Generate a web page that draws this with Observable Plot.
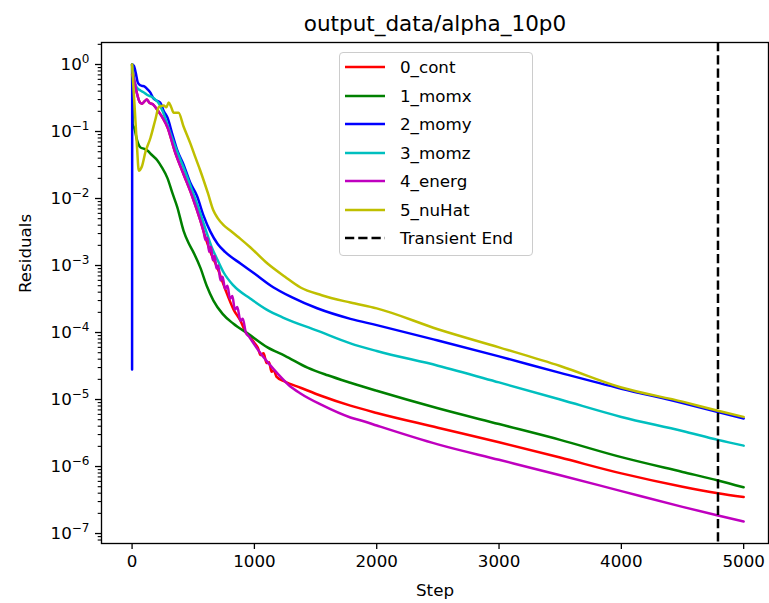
<!DOCTYPE html>
<html><head><meta charset="utf-8">
<script src="https://cdn.jsdelivr.net/npm/d3@7"></script>
<script src="https://cdn.jsdelivr.net/npm/@observablehq/plot@0.6"></script>
<style>
body{margin:0;background:#fff;}
#wrap{position:relative;width:769px;height:603px;font-family:"DejaVu Sans",sans-serif;}
#legend{position:absolute;left:339px;top:52px;width:194px;height:204px;border:1px solid #cccccc;border-radius:4px;background:rgba(255,255,255,0.8);box-sizing:border-box;}
.row{position:absolute;left:0;height:28px;display:flex;align-items:center;font-size:16.7px;color:#000;white-space:nowrap;}
.row svg{margin-left:5px;margin-right:15px;}
</style></head><body><div id="wrap"><div id="legend"></div></div>
<script>
const chartTitle = "output_data/alpha_10p0";
const xLabel = "Step";
const yLabel = "Residuals";
const seriesNames = ["0_cont","1_momx","2_momy","3_momz","4_energ","5_nuHat"];
const seriesColors = ["#ff0000","#008000","#0000ff","#00bfbf","#bf00bf","#bfbf00"];
const transientLabel = "Transient End";
const transientEnd = 4790;
const xTicks = [0,1000,2000,3000,4000,5000];
const yTicks = [1,1e-1,1e-2,1e-3,1e-4,1e-5,1e-6,1e-7];

const contSteps = [0,20,40,60,80,100,120,140,175,215,250,290,350,421,490,558,585,640,700,760,830,886,930,960,1000,1030,1050,1075,1100,1120,1140,1160,1180,1250,1377,1550,1785,2000,2500,3000,3500,4000,4500,4790,5000];
const contVals = [1.0,0.55,0.37,0.28,0.26,0.28,0.3,0.27,0.25,0.2,0.16,0.115,0.05,0.023,0.011,0.0047,0.0032,0.0016,0.0009,0.00045,0.00022,0.00015,0.0001,0.000088,0.00007,0.000058,0.000046,0.000049,0.000035,0.000036,0.000026,0.000027,0.000022,0.0000185,0.000015,0.0000113,0.0000081,0.0000063,0.0000038,0.0000023,0.00000136,0.00000079,0.0000005,0.0000004,0.00000035];

const momxSteps = [0,4,20,40,68,100,125,160,207,240,290,330,370,421,460,500,558,610,665,740,829,950,1107,1250,1434,1600,1785,2000,2500,3000,3500,4000,4500,4790,5000];
const momxVals = [1.0,0.13,0.11,0.075,0.058,0.055,0.052,0.045,0.037,0.03,0.02,0.012,0.0074,0.0033,0.0022,0.0016,0.00093,0.0005,0.0003,0.00019,0.000135,0.0000955,0.00006,0.000045,0.00003,0.000023,0.0000178,0.0000135,0.0000074,0.0000043,0.0000025,0.00000138,0.00000083,0.00000062,0.00000049];

const momySteps = [0,1,15,30,45,60,80,100,130,150,175,200,230,260,290,330,370,421,477,530,585,640,700,760,886,1000,1157,1300,1513,1785,2000,2500,3000,3500,4000,4500,4790,5000];
const momyVals = [0.000028,1.0,0.95,0.75,0.55,0.5,0.48,0.47,0.42,0.38,0.31,0.29,0.27,0.2,0.16,0.09,0.052,0.032,0.017,0.011,0.0055,0.0032,0.0021,0.0016,0.00107,0.00076,0.00047,0.00034,0.00023,0.00016,0.000129,0.000076,0.000044,0.000025,0.0000145,0.0000089,0.0000065,0.0000052];

const momzSteps = [0,11,40,68,100,125,160,190,220,250,300,360,421,480,540,600,650,700,750,830,968,1100,1238,1513,1785,2000,2500,3000,3500,4000,4500,4790,5000];
const momzVals = [1.0,0.65,0.45,0.41,0.38,0.35,0.33,0.3,0.26,0.2,0.11,0.055,0.029,0.015,0.0075,0.0035,0.0019,0.0012,0.00078,0.0005,0.00032,0.00022,0.000166,0.000107,0.000069,0.000053,0.000032,0.000018,0.00001,0.0000055,0.0000034,0.0000025,0.00000205];

const energSteps = [0,20,40,60,80,100,120,140,175,215,250,290,350,421,490,558,585,600,615,630,645,660,675,690,705,722,740,760,780,800,820,840,860,886,905,930,960,1000,1050,1120,1188,1280,1377,1550,1785,1900,2000,2500,3000,3500,4000,4500,4790,5000];
const energVals = [0.7,0.55,0.37,0.28,0.26,0.28,0.3,0.27,0.25,0.2,0.16,0.115,0.05,0.023,0.011,0.0047,0.0032,0.0024,0.0026,0.0016,0.0019,0.0012,0.0014,0.0009,0.001,0.0006,0.00068,0.00045,0.0005,0.00032,0.00035,0.00022,0.00024,0.00015,0.00016,0.0001,0.000085,0.000066,0.000049,0.000034,0.0000245,0.0000165,0.0000123,0.0000083,0.0000054,0.0000047,0.0000041,0.00000214,0.00000126,0.00000074,0.00000043,0.00000025,0.000000186,0.000000151];

const nuSteps = [0,20,40,55,80,110,150,190,218,240,258,280,300,320,340,380,420,477,520,558,620,665,700,748,805,886,968,1107,1250,1377,1550,1785,2000,2500,3000,3500,4000,4500,4790,5000];
const nuVals = [1.0,0.25,0.06,0.026,0.03,0.05,0.08,0.15,0.23,0.24,0.245,0.23,0.27,0.23,0.19,0.19,0.12,0.066,0.04,0.026,0.012,0.0066,0.0051,0.004,0.0033,0.0025,0.00186,0.00107,0.00068,0.00047,0.00036,0.00028,0.000229,0.000112,0.00006,0.0000316,0.0000151,0.0000093,0.0000068,0.0000055];

const allSteps = [contSteps,momxSteps,momySteps,momzSteps,energSteps,nuSteps];
const allVals = [contVals,momxVals,momyVals,momzVals,energVals,nuVals];

const series = seriesNames.map((name,i)=>({
  name, color: seriesColors[i],
  rows: allSteps[i].map((s,j)=>({step:s, value:allVals[i][j]}))
}));

const yDomain = [7.1e-8, 2.13];
const yMinor = yTicks.concat([1e-8]).flatMap(d=>[2,3,4,5,6,7,8,9].map(k=>k*d)).filter(v=>v>yDomain[0] && v<yDomain[1]);

const lw = 2.5;
const marks = series.map(s=>Plot.line(s.rows,{x:"step",y:"value",stroke:s.color,strokeWidth:lw,strokeLinejoin:"round",curve:"monotone-x"}));
marks.push(Plot.ruleX([transientEnd],{stroke:"black",strokeWidth:lw,strokeDasharray:"9.25,4"}));
marks.push(Plot.axisX(xTicks,{tickSize:6,tickPadding:6,label:null,tickFormat:d=>String(d),strokeWidth:1.3}));
marks.push(Plot.axisY(yTicks,{tickSize:6,tickPadding:6,label:null,tickFormat:d=>"10^"+Math.round(Math.log10(d)),strokeWidth:1.3}));
marks.push(Plot.axisY(yMinor,{tickSize:3.3,label:null,tickFormat:()=>"",strokeWidth:1.1}));
marks.push(Plot.text([chartTitle],{frameAnchor:"top",dy:-18,fontSize:21.5,lineAnchor:"middle"}));
marks.push(Plot.text([xLabel],{frameAnchor:"bottom",dy:47,fontSize:16.7,lineAnchor:"middle"}));
marks.push(Plot.text([yLabel],{frameAnchor:"left",dx:-76,fontSize:16.7,rotate:-90,lineAnchor:"middle"}));
marks.push(Plot.frame({stroke:"black",strokeWidth:1.33}));

const chart = Plot.plot({
  width:769, height:603,
  marginLeft:101, marginRight:1, marginTop:42, marginBottom:60,
  x:{domain:[-250,5203]},
  y:{type:"log",domain:yDomain},
  style:{fontFamily:"DejaVu Sans",fontSize:"16.7px",color:"black",background:"white"},
  marks
});

// superscript exponents on log tick labels
d3.select(chart).selectAll('g[aria-label="y-axis tick label"] text').each(function(){
  const t = d3.select(this);
  const s = t.text();
  if(!s.startsWith("10^")) return;
  const e = s.slice(3).replace("-","\u2212");
  t.text("10");
  t.append("tspan").attr("dy","-0.55em").attr("font-size","0.72em").text(e);
});

document.getElementById("wrap").prepend(chart);
chart.style.position="absolute"; chart.style.left="0"; chart.style.top="0";

// legend
const leg = document.getElementById("legend");
const legItems = seriesNames.map((n,i)=>({label:n,color:seriesColors[i],dash:null})).concat([{label:transientLabel,color:"black",dash:"9.25,4"}]);
legItems.forEach((it,i)=>{
  const row = document.createElement("div");
  row.className="row";
  row.style.top = (i*28.5) + "px";
  row.innerHTML = `<svg width="40" height="10"><line x1="0" y1="5" x2="40" y2="5" stroke="${it.color}" stroke-width="2.5" ${it.dash?`stroke-dasharray="${it.dash}"`:""}/></svg><span>${it.label}</span>`;
  leg.appendChild(row);
});
</script></body></html>
